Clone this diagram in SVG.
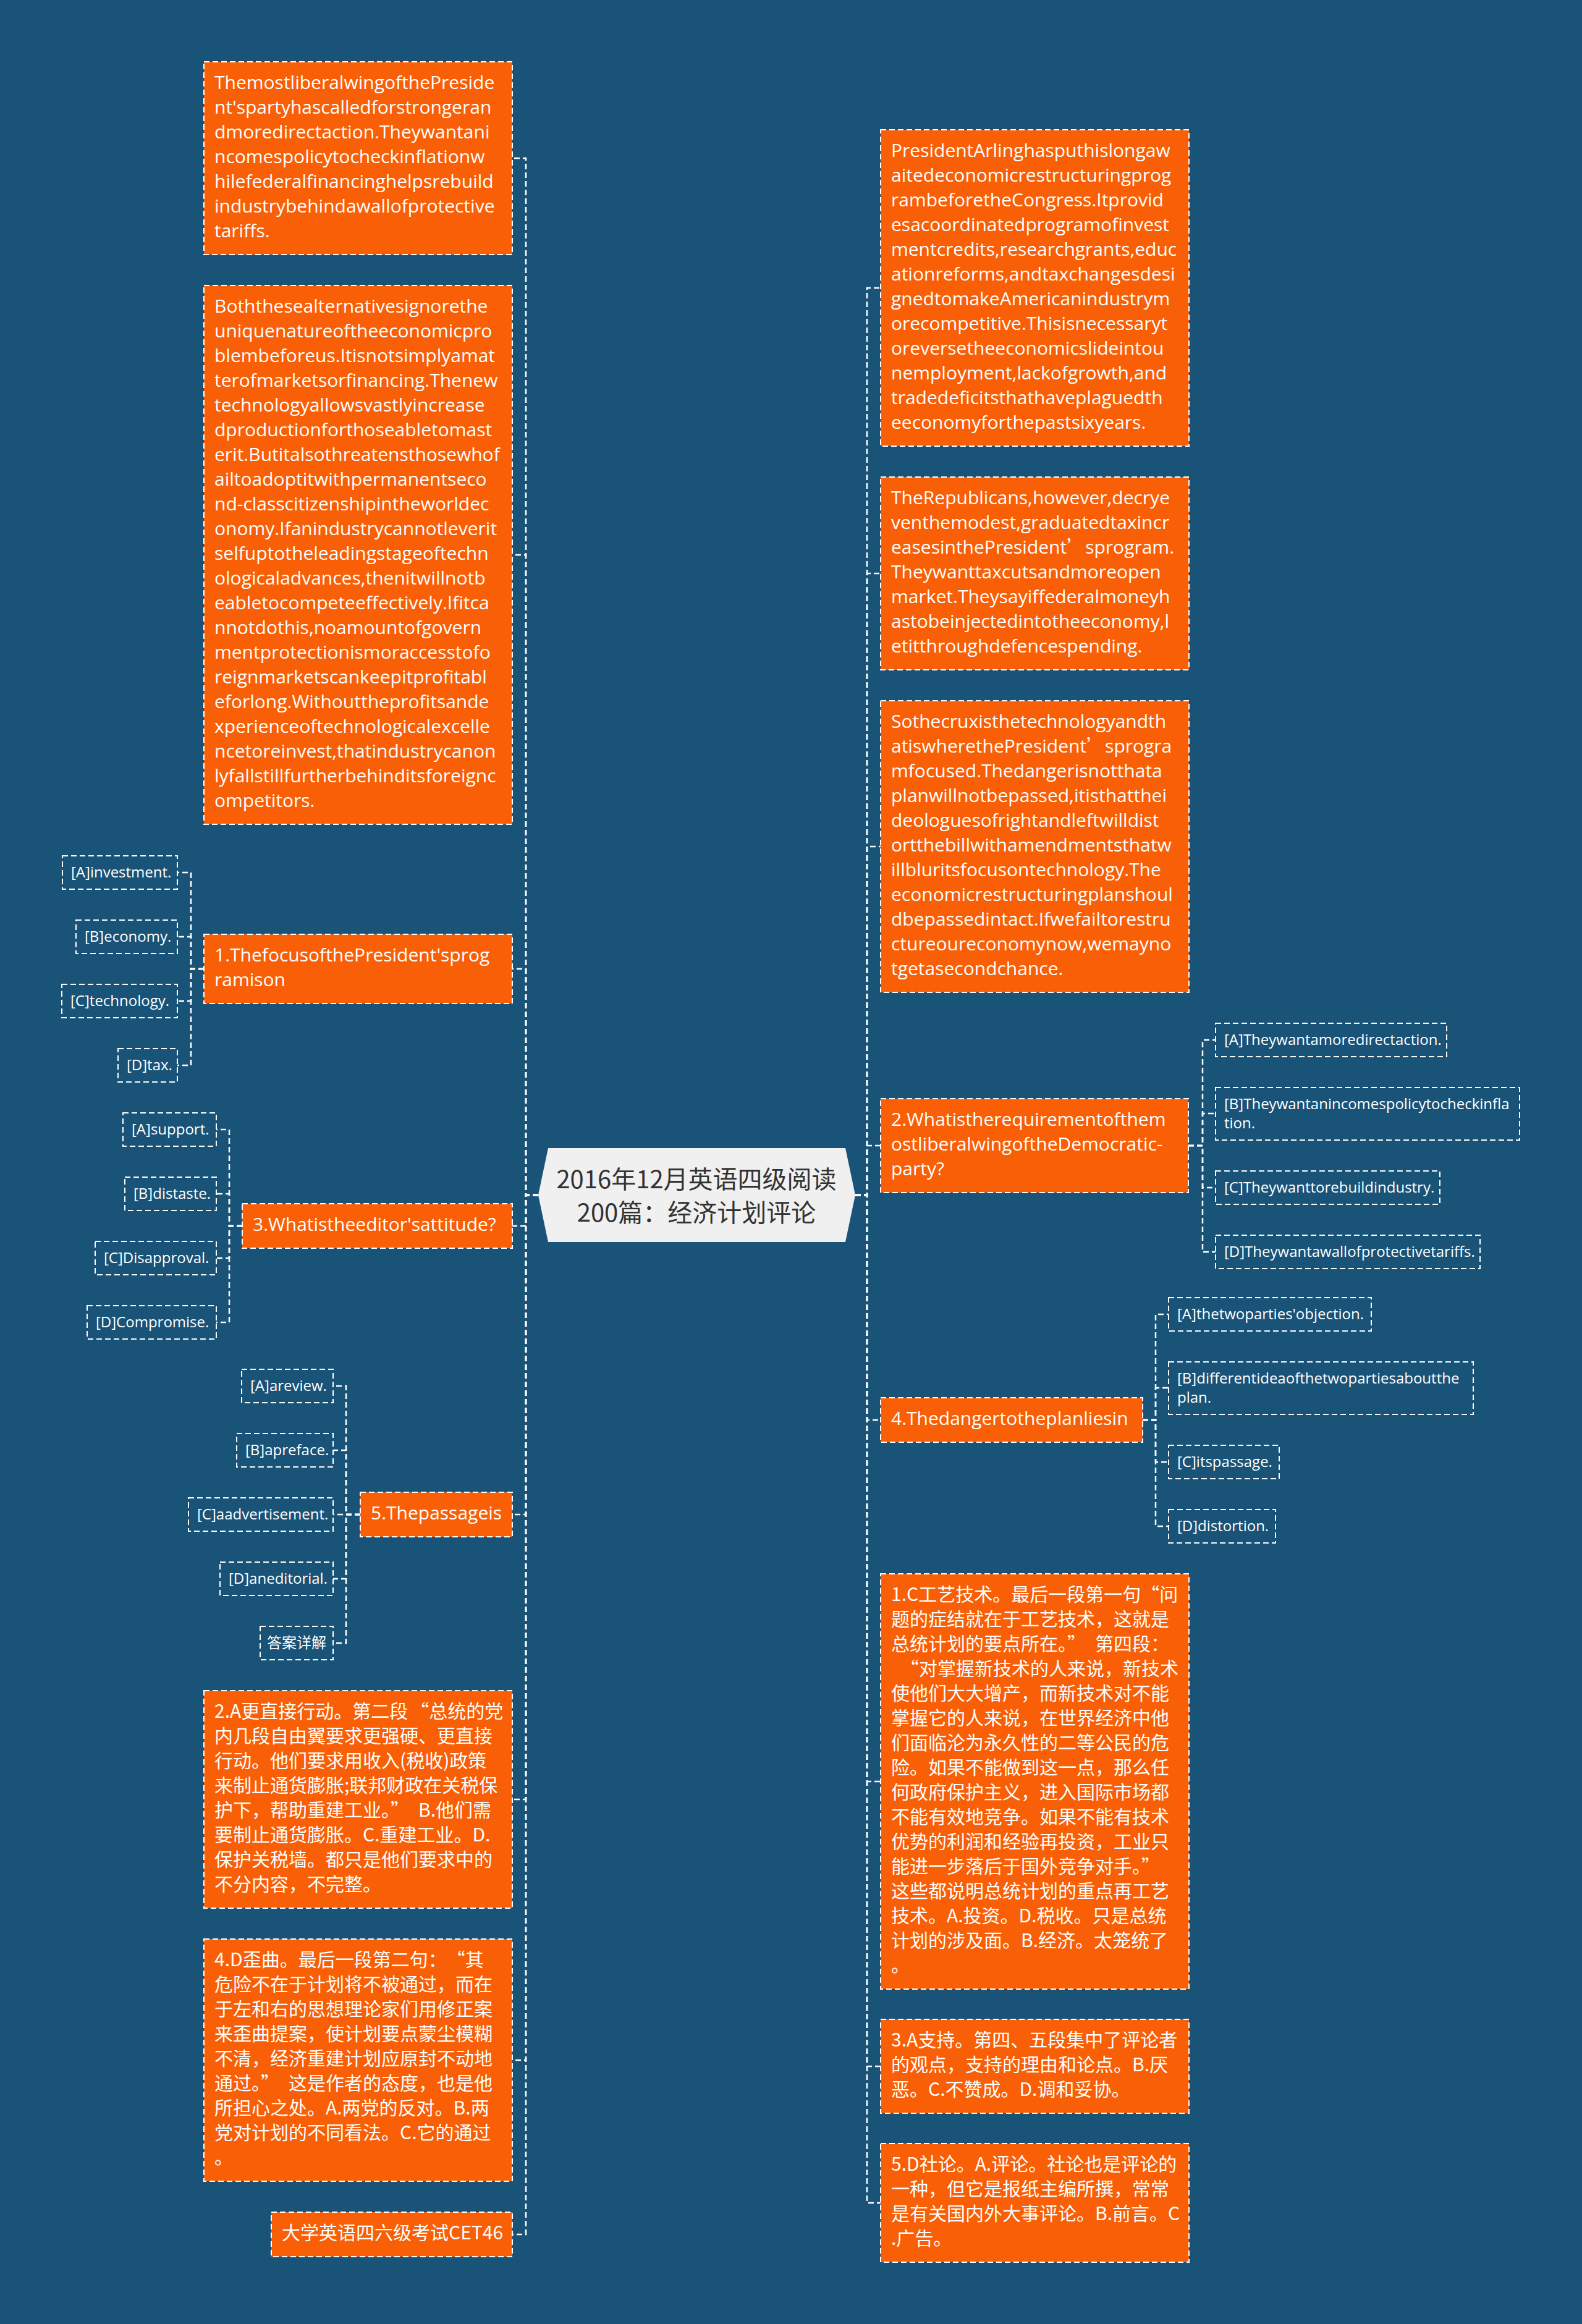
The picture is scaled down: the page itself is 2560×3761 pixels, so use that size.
<svg xmlns="http://www.w3.org/2000/svg" width="2560" height="3761" viewBox="0 0 2560 3761">
<style>
.bg{fill:#1a5378}
.box{fill:#f95f06;stroke:#ffffff;stroke-width:2;stroke-dasharray:9 5}
.opt{fill:none;stroke:#ffffff;stroke-width:2;stroke-dasharray:9 5}
.con{fill:none;stroke:#ffffff;stroke-width:2.5;stroke-dasharray:9 5}
.en{font-family:"Open Sans","Noto Sans CJK SC",sans-serif;font-size:30px;fill:#ffffff}
.zh{font-family:"Noto Sans CJK SC","Open Sans",sans-serif;font-size:30px;fill:#ffffff}
.cjk{font-family:"Noto Sans CJK SC",sans-serif}
.ot{font-family:"Open Sans","Noto Sans CJK SC",sans-serif;font-size:24px;fill:#ffffff}
.ct{font-family:"Noto Sans CJK SC",sans-serif;font-size:40px;fill:#333333}
</style>
<rect class="bg" x="0" y="0" width="2560" height="3761"/>
<g id="connectors">
<path class="con" d="M871,1934 H851 V256 H829"/>
<path class="con" d="M871,1934 H851 V898 H829"/>
<path class="con" d="M871,1934 H851 V1568 H829"/>
<path class="con" d="M871,1934 H851 V1984 H829"/>
<path class="con" d="M871,1934 H851 V2451 H829"/>
<path class="con" d="M871,1934 H851 V2912 H829"/>
<path class="con" d="M871,1934 H851 V3334 H829"/>
<path class="con" d="M871,1934 H851 V3616 H829"/>
<path class="con" d="M1384,1934 H1403 V466 H1425"/>
<path class="con" d="M1384,1934 H1403 V928 H1425"/>
<path class="con" d="M1384,1934 H1403 V1370 H1425"/>
<path class="con" d="M1384,1934 H1403 V1854 H1425"/>
<path class="con" d="M1384,1934 H1403 V2298 H1425"/>
<path class="con" d="M1384,1934 H1403 V2883 H1425"/>
<path class="con" d="M1384,1934 H1403 V3344 H1425"/>
<path class="con" d="M1384,1934 H1403 V3565 H1425"/>
<path class="con" d="M330,1568 H309 V1412 H287"/>
<path class="con" d="M330,1568 H309 V1516 H287"/>
<path class="con" d="M330,1568 H309 V1620 H287"/>
<path class="con" d="M330,1568 H309 V1724 H287"/>
<path class="con" d="M392,1984 H371 V1828 H350"/>
<path class="con" d="M392,1984 H371 V1932 H350"/>
<path class="con" d="M392,1984 H371 V2036 H350"/>
<path class="con" d="M392,1984 H371 V2140 H350"/>
<path class="con" d="M583,2451 H560 V2243 H539"/>
<path class="con" d="M583,2451 H560 V2347 H539"/>
<path class="con" d="M583,2451 H560 V2451 H539"/>
<path class="con" d="M583,2451 H560 V2555 H539"/>
<path class="con" d="M583,2451 H560 V2659 H539"/>
<path class="con" d="M1923,1854 H1946 V1683 H1967"/>
<path class="con" d="M1923,1854 H1946 V1802 H1967"/>
<path class="con" d="M1923,1854 H1946 V1922 H1967"/>
<path class="con" d="M1923,1854 H1946 V2026 H1967"/>
<path class="con" d="M1849,2298 H1870 V2127 H1891"/>
<path class="con" d="M1849,2298 H1870 V2246 H1891"/>
<path class="con" d="M1849,2298 H1870 V2366 H1891"/>
<path class="con" d="M1849,2298 H1870 V2470 H1891"/>
</g>
<g id="center">
<polygon points="887,1858 1368,1858 1384,1934 1368,2010 887,2010 871,1934" fill="#f0f0f0"/>
<text class="ct" x="1127" y="1923" text-anchor="middle">2016年12月英语四级阅读</text>
<text class="ct" x="1127" y="1977" text-anchor="middle">200篇：经济计划评论</text>
</g>
<g id="L1">
<rect class="box" x="330" y="100" width="499" height="312"/>
<text class="en"><tspan x="347" y="144">ThemostliberalwingofthePreside</tspan><tspan x="347" dy="40">nt'spartyhascalledforstrongeran</tspan><tspan x="347" dy="40">dmoredirectaction.Theywantani</tspan><tspan x="347" dy="40">ncomespolicytocheckinflationw</tspan><tspan x="347" dy="40">hilefederalfinancinghelpsrebuild</tspan><tspan x="347" dy="40">industrybehindawallofprotective</tspan><tspan x="347" dy="40">tariffs.</tspan></text>
</g>
<g id="L2">
<rect class="box" x="330" y="462" width="499" height="872"/>
<text class="en"><tspan x="347" y="506">Boththesealternativesignorethe</tspan><tspan x="347" dy="40">uniquenatureoftheeconomicpro</tspan><tspan x="347" dy="40">blembeforeus.Itisnotsimplyamat</tspan><tspan x="347" dy="40">terofmarketsorfinancing.Thenew</tspan><tspan x="347" dy="40">technologyallowsvastlyincrease</tspan><tspan x="347" dy="40">dproductionforthoseabletomast</tspan><tspan x="347" dy="40">erit.Butitalsothreatensthosewhof</tspan><tspan x="347" dy="40">ailtoadoptitwithpermanentseco</tspan><tspan x="347" dy="40">nd-classcitizenshipintheworldec</tspan><tspan x="347" dy="40">onomy.Ifanindustrycannotleverit</tspan><tspan x="347" dy="40">selfuptotheleadingstageoftechn</tspan><tspan x="347" dy="40">ologicaladvances,thenitwillnotb</tspan><tspan x="347" dy="40">eabletocompeteeffectively.Ifitca</tspan><tspan x="347" dy="40">nnotdothis,noamountofgovern</tspan><tspan x="347" dy="40">mentprotectionismoraccesstofo</tspan><tspan x="347" dy="40">reignmarketscankeepitprofitabl</tspan><tspan x="347" dy="40">eforlong.Withouttheprofitsande</tspan><tspan x="347" dy="40">xperienceoftechnologicalexcelle</tspan><tspan x="347" dy="40">ncetoreinvest,thatindustrycanon</tspan><tspan x="347" dy="40">lyfallstillfurtherbehinditsforeignc</tspan><tspan x="347" dy="40">ompetitors.</tspan></text>
</g>
<g id="Q1">
<rect class="box" x="330" y="1512" width="499" height="112"/>
<text class="en"><tspan x="347" y="1556">1.ThefocusofthePresident'sprog</tspan><tspan x="347" dy="40">ramison</tspan></text>
</g>
<g id="Q1A"><rect class="opt" x="101" y="1385" width="186" height="54"/><text class="ot" x="115" y="1420">[A]investment.</text></g>
<g id="Q1B"><rect class="opt" x="123" y="1489" width="164" height="54"/><text class="ot" x="137" y="1524">[B]economy.</text></g>
<g id="Q1C"><rect class="opt" x="100" y="1593" width="187" height="54"/><text class="ot" x="114" y="1628">[C]technology.</text></g>
<g id="Q1D"><rect class="opt" x="191" y="1697" width="96" height="54"/><text class="ot" x="205" y="1732">[D]tax.</text></g>
<g id="Q3">
<rect class="box" x="392" y="1948" width="437" height="72"/>
<text class="en" x="409" y="1992">3.Whatistheeditor'sattitude?</text>
</g>
<g id="Q3A"><rect class="opt" x="199" y="1801" width="151" height="54"/><text class="ot" x="213" y="1836">[A]support.</text></g>
<g id="Q3B"><rect class="opt" x="202" y="1905" width="148" height="54"/><text class="ot" x="216" y="1940">[B]distaste.</text></g>
<g id="Q3C"><rect class="opt" x="154" y="2009" width="196" height="54"/><text class="ot" x="168" y="2044">[C]Disapproval.</text></g>
<g id="Q3D"><rect class="opt" x="141" y="2113" width="209" height="54"/><text class="ot" x="155" y="2148">[D]Compromise.</text></g>
<g id="Q5">
<rect class="box" x="583" y="2415" width="246" height="72"/>
<text class="en" x="600" y="2459">5.Thepassageis</text>
</g>
<g id="Q5A"><rect class="opt" x="391" y="2216" width="148" height="54"/><text class="ot" x="405" y="2251">[A]areview.</text></g>
<g id="Q5B"><rect class="opt" x="383" y="2320" width="156" height="54"/><text class="ot" x="397" y="2355">[B]apreface.</text></g>
<g id="Q5C"><rect class="opt" x="305" y="2424" width="234" height="54"/><text class="ot" x="319" y="2459">[C]aadvertisement.</text></g>
<g id="Q5D"><rect class="opt" x="356" y="2528" width="183" height="54"/><text class="ot" x="370" y="2563">[D]aneditorial.</text></g>
<g id="Q5E"><rect class="opt" x="421" y="2632" width="118" height="54"/><text class="ot" x="432" y="2667">答案详解</text></g>
<g id="L6">
<rect class="box" x="330" y="2736" width="499" height="352"/>
<text class="zh"><tspan x="347" y="2780">2.A更直接行动。第二段<tspan dx="4">“总统的党</tspan></tspan><tspan x="347" dy="40">内几段自由翼要求更强硬、更直接</tspan><tspan x="347" dy="40">行动。他们要求用收入(税收)政策</tspan><tspan x="347" dy="40">来制止通货膨胀;联邦财政在关税保</tspan><tspan x="347" dy="40">护下，帮助重建工业。”<tspan dx="15">B.他们需</tspan></tspan><tspan x="347" dy="40">要制止通货膨胀。C.重建工业。D.</tspan><tspan x="347" dy="40">保护关税墙。都只是他们要求中的</tspan><tspan x="347" dy="40">不分内容，不完整。</tspan></text>
</g>
<g id="L7">
<rect class="box" x="330" y="3138" width="499" height="392"/>
<text class="zh"><tspan x="347" y="3182">4.D歪曲。最后一段第二句：<tspan dx="15">“其</tspan></tspan><tspan x="347" dy="40">危险不在于计划将不被通过，而在</tspan><tspan x="347" dy="40">于左和右的思想理论家们用修正案</tspan><tspan x="347" dy="40">来歪曲提案，使计划要点蒙尘模糊</tspan><tspan x="347" dy="40">不清，经济重建计划应原封不动地</tspan><tspan x="347" dy="40">通过。”<tspan dx="15">这是作者的态度，也是他</tspan></tspan><tspan x="347" dy="40">所担心之处。A.两党的反对。B.两</tspan><tspan x="347" dy="40">党对计划的不同看法。C.它的通过</tspan><tspan x="347" dy="40">。</tspan></text>
</g>
<g id="L8">
<rect class="box" x="439" y="3580" width="390" height="72"/>
<text class="zh" x="456" y="3624">大学英语四六级考试CET46</text>
</g>
<g id="R1">
<rect class="box" x="1425" y="210" width="499" height="512"/>
<text class="en"><tspan x="1442" y="254">PresidentArlinghasputhislongaw</tspan><tspan x="1442" dy="40">aitedeconomicrestructuringprog</tspan><tspan x="1442" dy="40">rambeforetheCongress.Itprovid</tspan><tspan x="1442" dy="40">esacoordinatedprogramofinvest</tspan><tspan x="1442" dy="40">mentcredits,researchgrants,educ</tspan><tspan x="1442" dy="40">ationreforms,andtaxchangesdesi</tspan><tspan x="1442" dy="40">gnedtomakeAmericanindustrym</tspan><tspan x="1442" dy="40">orecompetitive.Thisisnecessaryt</tspan><tspan x="1442" dy="40">oreversetheeconomicslideintou</tspan><tspan x="1442" dy="40">nemployment,lackofgrowth,and</tspan><tspan x="1442" dy="40">tradedeficitsthathaveplaguedth</tspan><tspan x="1442" dy="40">eeconomyforthepastsixyears.</tspan></text>
</g>
<g id="R2">
<rect class="box" x="1425" y="772" width="499" height="312"/>
<text class="en"><tspan x="1442" y="816">TheRepublicans,however,decrye</tspan><tspan x="1442" dy="40">venthemodest,graduatedtaxincr</tspan><tspan x="1442" dy="40">easesinthePresident<tspan class="cjk">’</tspan>sprogram.</tspan><tspan x="1442" dy="40">Theywanttaxcutsandmoreopen</tspan><tspan x="1442" dy="40">market.Theysayiffederalmoneyh</tspan><tspan x="1442" dy="40">astobeinjectedintotheeconomy,l</tspan><tspan x="1442" dy="40">etitthroughdefencespending.</tspan></text>
</g>
<g id="R3">
<rect class="box" x="1425" y="1134" width="499" height="472"/>
<text class="en"><tspan x="1442" y="1178">Sothecruxisthetechnologyandth</tspan><tspan x="1442" dy="40">atiswherethePresident<tspan class="cjk">’</tspan>sprogra</tspan><tspan x="1442" dy="40">mfocused.Thedangerisnotthata</tspan><tspan x="1442" dy="40">planwillnotbepassed,itisthatthei</tspan><tspan x="1442" dy="40">deologuesofrightandleftwilldist</tspan><tspan x="1442" dy="40">ortthebillwithamendmentsthatw</tspan><tspan x="1442" dy="40">illbluritsfocusontechnology.The</tspan><tspan x="1442" dy="40">economicrestructuringplanshoul</tspan><tspan x="1442" dy="40">dbepassedintact.Ifwefailtorestru</tspan><tspan x="1442" dy="40">ctureoureconomynow,wemayno</tspan><tspan x="1442" dy="40">tgetasecondchance.</tspan></text>
</g>
<g id="Q2">
<rect class="box" x="1425" y="1778" width="498" height="152"/>
<text class="en"><tspan x="1442" y="1822">2.Whatistherequirementofthem</tspan><tspan x="1442" dy="40">ostliberalwingoftheDemocratic-</tspan><tspan x="1442" dy="40">party?</tspan></text>
</g>
<g id="Q2A"><rect class="opt" x="1967" y="1656" width="374" height="54"/><text class="ot" x="1981" y="1691">[A]Theywantamoredirectaction.</text></g>
<g id="Q2B"><rect class="opt" x="1967" y="1760" width="492" height="85"/><text class="ot"><tspan x="1981" y="1795">[B]Theywantanincomespolicytocheckinfla</tspan><tspan x="1981" dy="31">tion.</tspan></text></g>
<g id="Q2C"><rect class="opt" x="1967" y="1895" width="363" height="54"/><text class="ot" x="1981" y="1930">[C]Theywanttorebuildindustry.</text></g>
<g id="Q2D"><rect class="opt" x="1967" y="1999" width="428" height="54"/><text class="ot" x="1981" y="2034">[D]Theywantawallofprotectivetariffs.</text></g>
<g id="Q4">
<rect class="box" x="1425" y="2262" width="424" height="72"/>
<text class="en" x="1442" y="2306">4.Thedangertotheplanliesin</text>
</g>
<g id="Q4A"><rect class="opt" x="1891" y="2100" width="328" height="54"/><text class="ot" x="1905" y="2135">[A]thetwoparties'objection.</text></g>
<g id="Q4B"><rect class="opt" x="1891" y="2204" width="493" height="85"/><text class="ot"><tspan x="1905" y="2239">[B]differentideaofthetwopartiesaboutthe</tspan><tspan x="1905" dy="31">plan.</tspan></text></g>
<g id="Q4C"><rect class="opt" x="1891" y="2339" width="179" height="54"/><text class="ot" x="1905" y="2374">[C]itspassage.</text></g>
<g id="Q4D"><rect class="opt" x="1891" y="2443" width="173" height="54"/><text class="ot" x="1905" y="2478">[D]distortion.</text></g>
<g id="R6">
<rect class="box" x="1425" y="2547" width="499" height="672"/>
<text class="zh"><tspan x="1442" y="2591">1.C工艺技术。最后一段第一句“问</tspan><tspan x="1442" dy="40">题的症结就在于工艺技术，这就是</tspan><tspan x="1442" dy="40">总统计划的要点所在。”<tspan dx="15">第四段：</tspan></tspan><tspan x="1457" dy="40">“对掌握新技术的人来说，新技术</tspan><tspan x="1442" dy="40">使他们大大增产，而新技术对不能</tspan><tspan x="1442" dy="40">掌握它的人来说，在世界经济中他</tspan><tspan x="1442" dy="40">们面临沦为永久性的二等公民的危</tspan><tspan x="1442" dy="40">险。如果不能做到这一点，那么任</tspan><tspan x="1442" dy="40">何政府保护主义，进入国际市场都</tspan><tspan x="1442" dy="40">不能有效地竞争。如果不能有技术</tspan><tspan x="1442" dy="40">优势的利润和经验再投资，工业只</tspan><tspan x="1442" dy="40">能进一步落后于国外竞争对手。”</tspan><tspan x="1442" dy="40">这些都说明总统计划的重点再工艺</tspan><tspan x="1442" dy="40">技术。A.投资。D.税收。只是总统</tspan><tspan x="1442" dy="40">计划的涉及面。B.经济。太笼统了</tspan><tspan x="1442" dy="40">。</tspan></text>
</g>
<g id="R7">
<rect class="box" x="1425" y="3268" width="499" height="152"/>
<text class="zh"><tspan x="1442" y="3312">3.A支持。第四、五段集中了评论者</tspan><tspan x="1442" dy="40">的观点，支持的理由和论点。B.厌</tspan><tspan x="1442" dy="40">恶。C.不赞成。D.调和妥协。</tspan></text>
</g>
<g id="R8">
<rect class="box" x="1425" y="3469" width="499" height="192"/>
<text class="zh"><tspan x="1442" y="3513">5.D社论。A.评论。社论也是评论的</tspan><tspan x="1442" dy="40">一种，但它是报纸主编所撰，常常</tspan><tspan x="1442" dy="40">是有关国内外大事评论。B.前言。C</tspan><tspan x="1442" dy="40">.广告。</tspan></text>
</g>
</svg>
